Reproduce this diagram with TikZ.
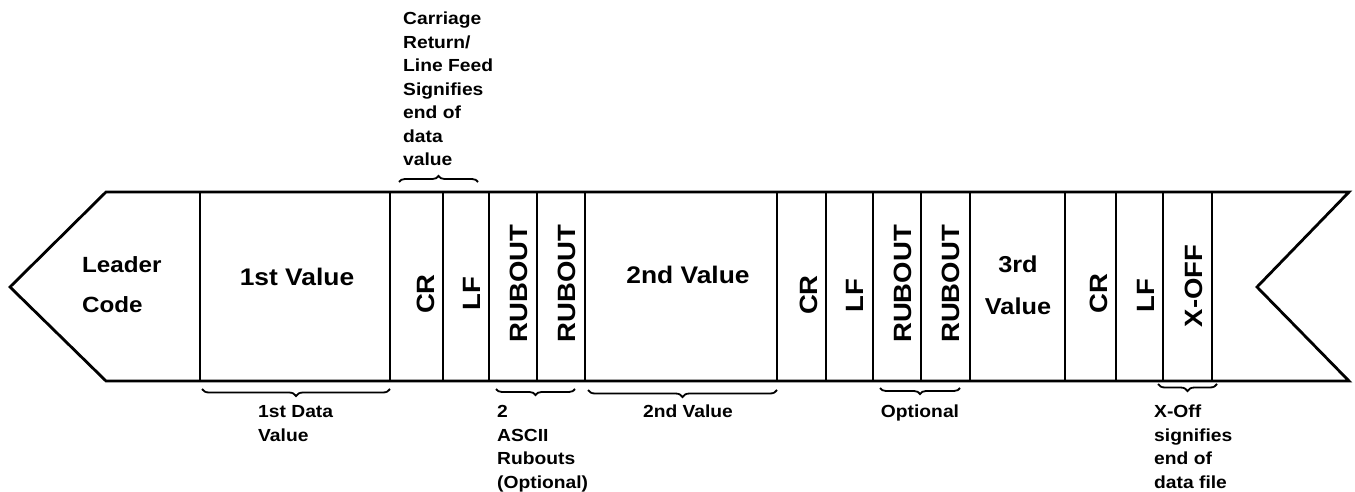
\documentclass[tikz,border=0pt]{standalone}
\usepackage{fontspec}
\setmainfont{Liberation Sans}[FakeStretch=1.1]
\usetikzlibrary{decorations.pathreplacing}
\begin{document}
\begin{tikzpicture}[x=1pt,y=-1pt,
  outline/.style={line width=2.8pt, line join=miter},
  divider/.style={line width=1.7pt},
  bigtext/.style={font=\fontsize{24}{40}\selectfont\bfseries, inner sep=0pt},
  rottext/.style={font=\fontsize{25}{30}\selectfont\bfseries, rotate=90, inner sep=0pt},
  smalltext/.style={font=\fontsize{17.5}{23.5}\selectfont\bfseries, inner sep=0pt, align=left},
  bracedown/.style={decorate, decoration={brace, mirror, amplitude=#1}, line width=1.8pt},
  braceup/.style={decorate, decoration={brace, amplitude=#1}, line width=1.8pt}]
\useasboundingbox (0,0) rectangle (1355,492);

% outline of the tape
\coordinate (tl) at (106,192);
\coordinate (tip) at (10,287);
\coordinate (bl) at (106,381);
\coordinate (br) at (1349,381);
\coordinate (notch) at (1257,287);
\coordinate (tr) at (1349,192);
\draw[outline] (tl) -- (tip) -- (bl) -- (br) -- (notch) -- (tr) -- cycle;

% dividers
\foreach \x [count=\i] in {200,390,443,489,537,585,777,826,873,921,970,1065,1116,1163,1212} {
  \coordinate (d\i t) at (\x,192);
  \coordinate (d\i b) at (\x,381);
  \draw[divider] (d\i t) -- (d\i b);
}

% cell texts
\node[bigtext, font=\fontsize{22}{40}\selectfont\bfseries, align=left, anchor=north west] (leader) at (82,256) {Leader\\Code};
\node[bigtext, anchor=base] (v1) at (297,285) {1st Value};
\node[bigtext, anchor=base] (v2) at (688,283) {2nd Value};
\node[bigtext, font=\fontsize{23}{42}\selectfont\bfseries, align=center, anchor=north] (v3) at (1018,256) {3rd\\Value};

\node[rottext] (cr1) at (426,294) {CR};
\node[rottext] (lf1) at (472,294) {LF};
\node[rottext] (rb1) at (519,283.5) {RUBOUT};
\node[rottext] (rb2) at (567,283.5) {RUBOUT};
\node[rottext] (cr2) at (808.5,295) {CR};
\node[rottext] (lf2) at (854.5,296) {LF};
\node[rottext] (rb3) at (902.5,284) {RUBOUT};
\node[rottext] (rb4) at (951,284) {RUBOUT};
\node[rottext] (cr3) at (1099,293.5) {CR};
\node[rottext] (lf3) at (1146,296) {LF};
\node[rottext] (xoff) at (1194,286) {X-OFF};

% braces
\coordinate (ba1) at (399,182); \coordinate (ba2) at (478,182);
\draw[braceup=6pt] (ba1) -- (ba2);
\coordinate (bb1) at (202,389); \coordinate (bb2) at (390,389);
\draw[bracedown=7pt] (bb1) -- (bb2);
\coordinate (bc1) at (496,389); \coordinate (bc2) at (575,389);
\draw[bracedown=6pt] (bc1) -- (bc2);
\coordinate (bd1) at (588,390); \coordinate (bd2) at (777,390);
\draw[bracedown=7pt] (bd1) -- (bd2);
\coordinate (be1) at (880,388); \coordinate (be2) at (960,388);
\draw[bracedown=6pt] (be1) -- (be2);
\coordinate (bf1) at (1158,384); \coordinate (bf2) at (1217,384);
\draw[bracedown=7pt] (bf1) -- (bf2);

% annotations
\node[smalltext, anchor=north west] (crlf) at (403,12) {Carriage\\Return/\\Line Feed\\Signifies\\end of\\data\\value};
\node[smalltext, anchor=north west] (l1) at (258,405.5) {1st Data\\Value};
\node[smalltext, anchor=north west] (l2) at (497,405.5) {2\\ASCII\\Rubouts\\(Optional)};
\node[smalltext, anchor=north] (l3) at (688,405) {2nd Value};
\node[smalltext, anchor=north] (l4) at (920,405) {Optional};
\node[smalltext, anchor=north west] (l5) at (1154,405) {X-Off\\signifies\\end of\\data file};
\end{tikzpicture}
\end{document}
